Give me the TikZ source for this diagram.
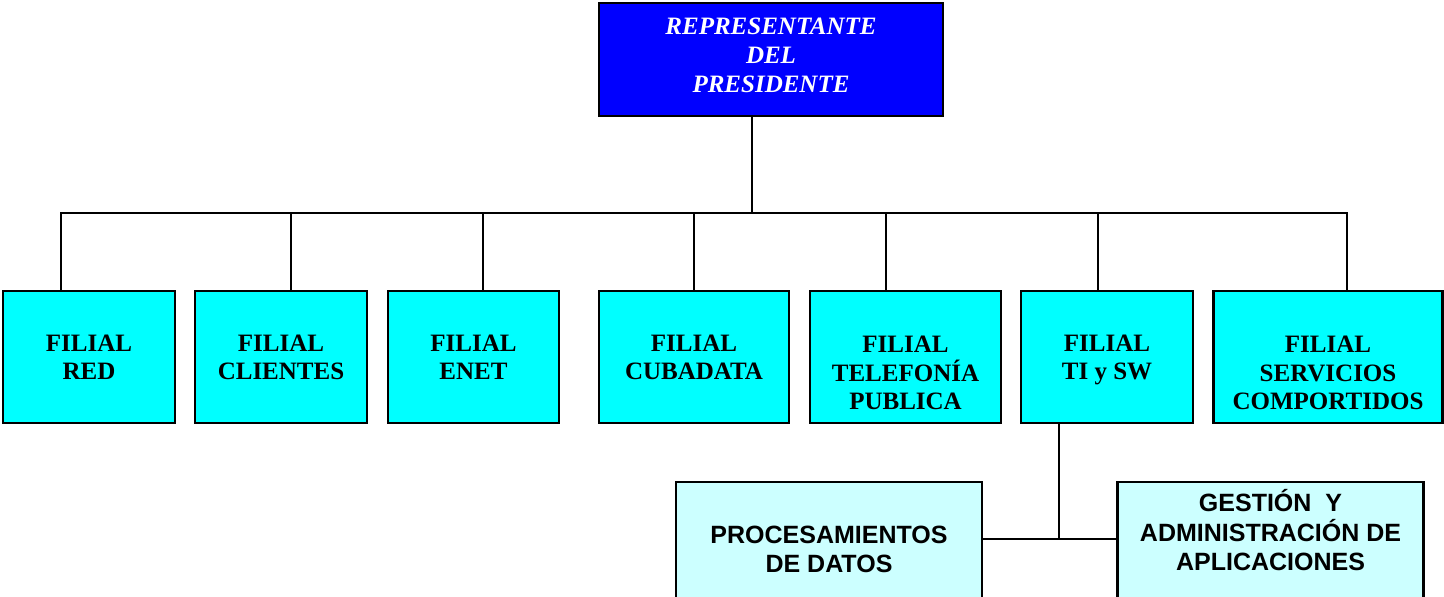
\documentclass[tikz,border=0pt]{standalone}
\usepackage{fontspec}
\setmainfont{Liberation Serif}
\newfontfamily\arialfont{Liberation Sans}
\definecolor{repblue}{RGB}{0,0,255}
\definecolor{filcyan}{RGB}{0,255,255}
\definecolor{subcyan}{RGB}{204,255,255}
\tikzstyle{repnode} = [draw, rectangle, fill=repblue, text=white, line width=2.3pt, minimum width=344pt, minimum height=113pt, align=center, inner sep=0pt, text depth=9.5pt, font=\fontsize{25}{29}\selectfont\bfseries\itshape]
\tikzstyle{filnode} = [draw, rectangle, fill=filcyan, line width=2.3pt, minimum height=132pt, align=center, inner sep=0pt, text depth=0pt, font=\fontsize{25}{28.5}\selectfont\bfseries]
\tikzstyle{subnode} = [draw, rectangle, fill=subcyan, line width=2.3pt, minimum width=306pt, minimum height=135pt, align=center, inner sep=0pt, font=\arialfont\fontsize{25}{29.5}\selectfont\bfseries]
\tikzstyle{link} = [line width=2pt, line cap=rect]

\begin{document}
\begin{tikzpicture}[x=1pt, y=-1pt]
  \useasboundingbox (0,0) rectangle (1444,597);
  \node[repnode] (rep) at (771,59.5) {REPRESENTANTE\\DEL\\PRESIDENTE};

  \node[filnode, minimum width=172pt] (red) at (89,357) {FILIAL\\RED};
  \node[filnode, minimum width=172pt] (clientes) at (281,357) {FILIAL\\CLIENTES};
  \node[filnode, minimum width=171pt] (enet) at (473.5,357) {FILIAL\\ENET};
  \node[filnode, minimum width=190pt] (cubadata) at (694,357) {FILIAL\\CUBADATA};
  \node[filnode, minimum width=191pt] (telefonia) at (905.5,357) {\strut\\FILIAL\\TELEFONÍA\\PUBLICA};
  \node[filnode, minimum width=172pt] (tisw) at (1107,357) {FILIAL\\TI y SW};
  \node[filnode, minimum width=229pt] (servicios) at (1328,357) {\strut\\FILIAL\\SERVICIOS\\COMPORTIDOS};

  \node[subnode] (proc) at (829,549.5) {PROCESAMIENTOS\\DE DATOS};
  \node[subnode] (gest) at (1270.5,549.5) {GESTIÓN~ Y\\ADMINISTRACIÓN DE\\APLICACIONES\\\strut};

  % bus to the filiales
  \coordinate (bus) at (752,213);
  \draw[link] (rep.south -| bus) -- (bus);
  \foreach \n/\x [count=\i] in {red/61, clientes/291, enet/483, cubadata/694, telefonia/886, tisw/1098, servicios/1347} {
    \coordinate (t\i) at (\x,213);
    \draw[link] (t\i) -- (t\i |- \n.north);
  }
  \draw[link] (t1) -- (t7);

  % TI y SW areas
  \coordinate (sub) at (1059,539);
  \draw[link] (tisw.south -| sub) -- (sub);
  \draw[link] (proc.east |- sub) -- (gest.west |- sub);
\end{tikzpicture}
\end{document}
